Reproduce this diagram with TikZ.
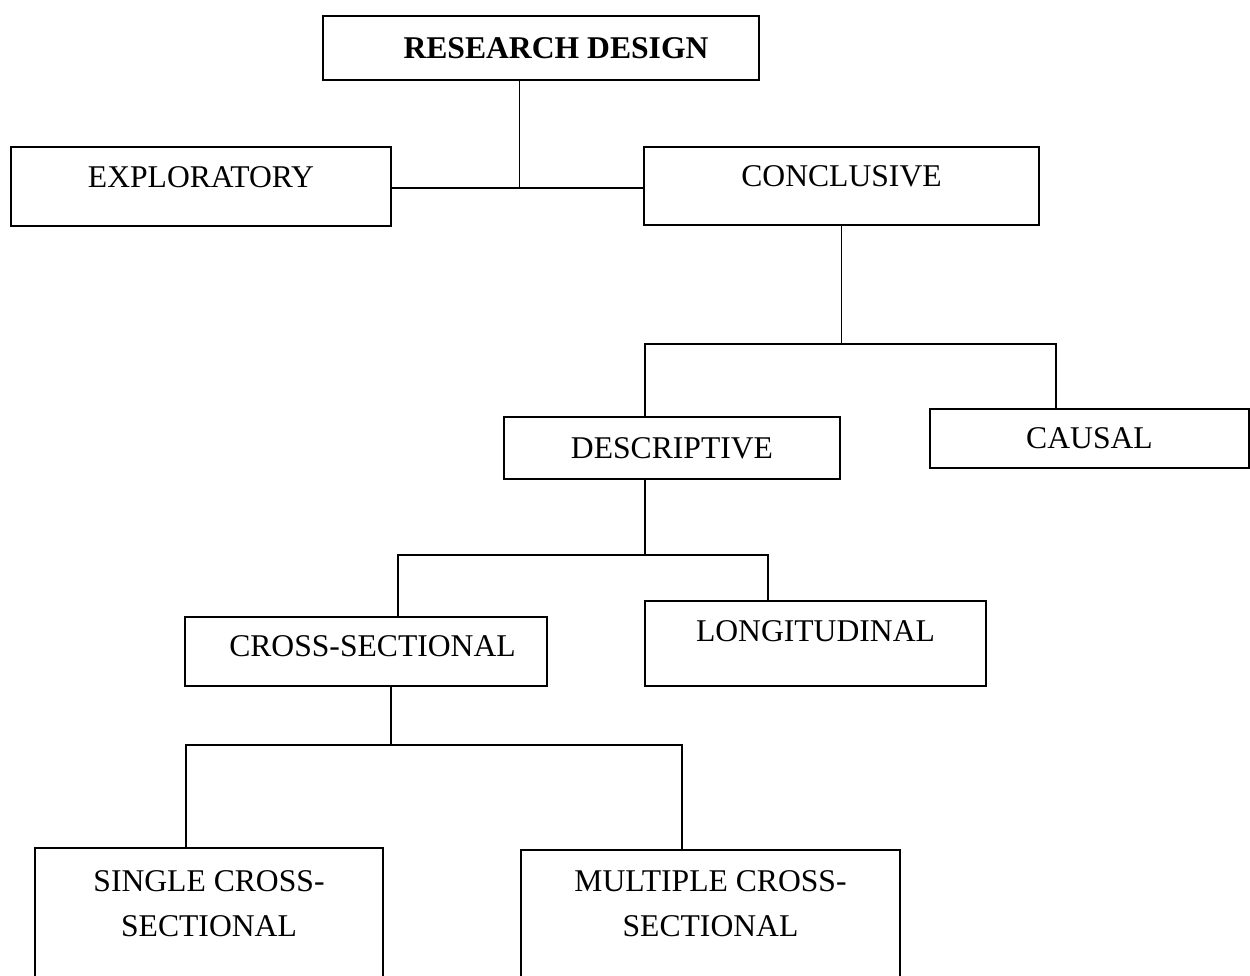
\documentclass[tikz,border=0pt]{standalone}
\usepackage{fontspec}
\setmainfont{Liberation Serif}
\usepackage{tikz}

\tikzset{
	box/.style={draw, line width=0.8pt, font=\fontsize{18}{25.6}\selectfont},
	lift/.style={text depth=#1},
	wire/.style={line width=0.8pt},
}

\begin{document}
\begin{tikzpicture}
			\useasboundingbox (0,0) rectangle (25,-19.52);
			\clip (0,0) rectangle (25,-19.52);
			\node[box, minimum width=8.72cm, minimum height=1.28cm] (design) at (10.82,-0.96) {\hspace*{0.6cm}\textbf{RESEARCH DESIGN}};
			\node[box, lift=10.8pt, minimum width=7.6cm, minimum height=1.58cm] (exploratory) at (4.02,-3.73) {EXPLORATORY};
			\node[box, lift=10.8pt, minimum width=7.9cm, minimum height=1.56cm] (conclusive) at (16.83,-3.72) {CONCLUSIVE};
			\node[box, minimum width=6.72cm, minimum height=1.24cm] (descriptive) at (13.44,-8.96) {DESCRIPTIVE};
			\node[box, minimum width=6.38cm, minimum height=1.18cm] (causal) at (21.79,-8.77) {CAUSAL};
			\node[box, lift=5.7pt, minimum width=7.24cm, minimum height=1.38cm] (crosssec) at (7.32,-13.03) {\hspace*{0.26cm}CROSS-SECTIONAL};
			\node[box, lift=14.2pt, minimum width=6.82cm, minimum height=1.7cm] (longitudinal) at (16.31,-12.87) {LONGITUDINAL};
			\node[box, align=center, lift=32.5pt, minimum width=6.96cm, minimum height=3.36cm] (single) at (4.18,-18.64) {SINGLE CROSS-\\SECTIONAL};
			\node[box, align=center, lift=34.5pt, minimum width=7.58cm, minimum height=3.36cm] (multiple) at (14.21,-18.68) {MULTIPLE CROSS-\\SECTIONAL};
			\coordinate (split1) at (10.39,-3.76);
			\draw[wire] (design.south -| split1) -- (split1);
			\draw[wire] (exploratory.east |- split1) -- (conclusive.west |- split1);
			\coordinate (bar2l) at (12.9,-6.88);
			\coordinate (bar2r) at (21.12,-6.88);
			\draw[wire] (conclusive.south) -- (conclusive.south |- bar2l);
			\draw[wire] (descriptive.north -| bar2l) -- (bar2l) -- (bar2r) -- (causal.north -| bar2r);
			\coordinate (bar3l) at (7.96,-11.1);
			\coordinate (bar3r) at (15.36,-11.1);
			\draw[wire] (bar2l |- descriptive.south) -- (bar2l |- bar3l);
			\draw[wire] (crosssec.north -| bar3l) -- (bar3l) -- (bar3r) -- (longitudinal.north -| bar3r);
			\coordinate (split4) at (7.82,-14.9);
			\coordinate (bar4l) at (3.72,-14.9);
			\coordinate (bar4r) at (13.64,-14.9);
			\draw[wire] (crosssec.south -| split4) -- (split4);
			\draw[wire] (single.north -| bar4l) -- (bar4l) -- (bar4r) -- (multiple.north -| bar4r);
		\end{tikzpicture}
\end{document}
